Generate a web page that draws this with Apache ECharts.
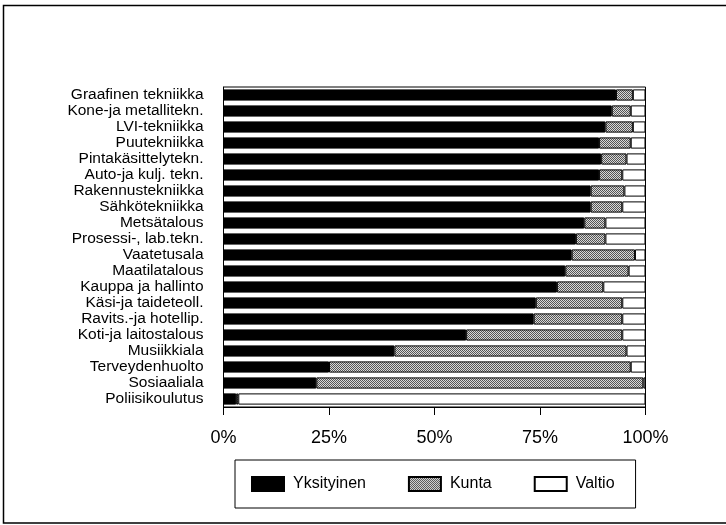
<!DOCTYPE html>
<html>
<head>
<meta charset="utf-8">
<title>Koulutusala</title>
<script src="https://cdn.jsdelivr.net/npm/echarts@6/dist/echarts.min.js"></script>
<style>
  html, body { margin: 0; padding: 0; background: #fff; }
  #chart { width: 726px; height: 525px; }
</style>
</head>
<body>
<div id="chart"></div>
<script>
// categories, top to bottom
const categories = [
  'Graafinen tekniikka', 'Kone-ja metallitekn.', 'LVI-tekniikka', 'Puutekniikka',
  'Pintakäsittelytekn.', 'Auto-ja kulj. tekn.', 'Rakennustekniikka', 'Sähkötekniikka',
  'Metsätalous', 'Prosessi-, lab.tekn.', 'Vaatetusala', 'Maatilatalous',
  'Kauppa ja hallinto', 'Käsi-ja taideteoll.', 'Ravits.-ja hotellip.', 'Koti-ja laitostalous',
  'Musiikkiala', 'Terveydenhuolto', 'Sosiaaliala', 'Poliisikoulutus'
]
// shares in percent
const yksityinen = [93, 92, 90.5, 89, 89.5, 89, 87, 87, 85.5, 83.5, 82.5, 81, 79, 74, 73.5, 57.5, 40.5, 25, 22, 3]
const kunta = [4, 4.5, 6.5, 7.5, 6, 5.5, 8, 7.5, 5, 7, 15, 15, 11, 20.5, 21, 37, 55, 71.5, 77.5, 0.5]
const valtio = [3, 3.5, 3, 3.5, 4.5, 5.5, 5, 5.5, 9.5, 9.5, 2.5, 4, 10, 5.5, 5.5, 5.5, 4.5, 3.5, 0.5, 96.5]
const ticks = ['0%', '25%', '50%', '75%', '100%']

// dotted grey fill like the print screen
function dotPattern() {
  const c = document.createElement('canvas')
  c.width = 2
  c.height = 2
  const ctx = c.getContext('2d')
  ctx.fillStyle = '#d8d8d8'
  ctx.fillRect(0, 0, 2, 2)
  ctx.fillStyle = '#555'
  ctx.fillRect(0, 0, 1, 1)
  ctx.fillRect(1, 1, 1, 1)
  return { image: c, repeat: 'repeat' }
}

const font = 'Liberation Sans, Arial, sans-serif'
const chart = echarts.init(document.getElementById('chart'))

function bar(name, data, color) {
  return {
    name: name,
    type: 'bar',
    stack: 'total',
    barWidth: '70%',
    itemStyle: { color: color, borderColor: '#000', borderWidth: 1 },
    data: data
  }
}

let option = {
  animation: false,
  backgroundColor: '#fff',
  textStyle: { fontFamily: font, color: '#000' },
  graphic: [
    {
      type: 'rect',
      shape: { x: 3.5, y: 5.5, width: 740, height: 517.5 },
      style: { fill: 'none', stroke: '#000', lineWidth: 1.5 }
    }
  ],
  grid: {
    left: 223.5,
    right: 80.5,
    top: 87,
    bottom: 118,
    show: true,
    borderColor: '#000',
    borderWidth: 1
  },
  legend: {
    data: ['Yksityinen', 'Kunta', 'Valtio'],
    icon: 'rect',
    left: 235,
    top: 460,
    padding: [16, 21, 16, 16],
    itemGap: 42,
    itemWidth: 32,
    itemHeight: 14,
    borderColor: '#000',
    borderWidth: 1,
    textStyle: { fontFamily: font, fontSize: 16, color: '#000', padding: [0, 0, 0, 4] }
  },
  xAxis: {
    type: 'value',
    min: 0,
    max: 100,
    interval: 25,
    axisLine: { show: true, lineStyle: { color: '#000' } },
    axisTick: { show: true, length: 8, lineStyle: { color: '#000' } },
    splitLine: { show: false },
    axisLabel: {
      fontFamily: font,
      fontSize: 18,
      color: '#000',
      margin: 22,
      formatter: function (v) { return ticks[v / 25] }
    }
  },
  yAxis: {
    type: 'category',
    inverse: true,
    data: categories,
    axisLine: { show: true, lineStyle: { color: '#000' } },
    axisTick: { show: false },
    axisLabel: { fontFamily: font, fontSize: 15.5, color: '#000', margin: 20, interval: 0 }
  },
  series: [
    bar('Yksityinen', yksityinen, '#000'),
    bar('Kunta', kunta, dotPattern()),
    bar('Valtio', valtio, '#fff')
  ]
}

chart.setOption(option)
</script>
</body>
</html>
